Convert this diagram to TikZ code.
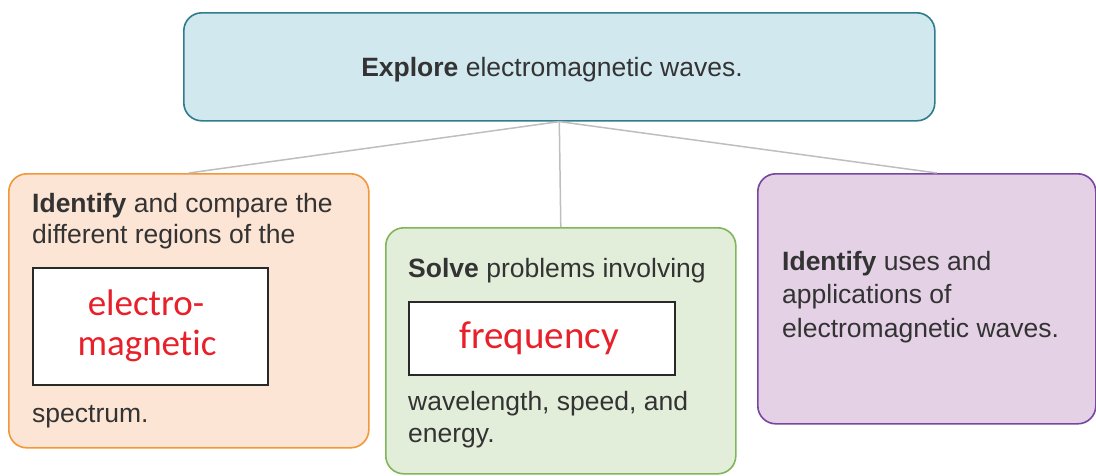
\documentclass[tikz,border=0pt]{standalone}
\usepackage{fontspec}
\setmainfont{Liberation Sans}
\newfontfamily\handfont[Ligatures=NoCommon]{Carlito}
\definecolor{txt}{HTML}{333333}
\definecolor{topfill}{HTML}{D1E8EF}
\definecolor{topdraw}{HTML}{2F7C8C}
\definecolor{lfill}{HTML}{FCE5D4}
\definecolor{ldraw}{HTML}{F2973A}
\definecolor{mfill}{HTML}{E2EEDA}
\definecolor{mdraw}{HTML}{80B55A}
\definecolor{rfill}{HTML}{E4D1E6}
\definecolor{rdraw}{HTML}{7845A0}
\definecolor{linkc}{HTML}{BEBEBE}
\definecolor{redtxt}{HTML}{E8202A}
\begin{document}
\begin{tikzpicture}[x=1pt,y=-1pt,
  card/.style={draw, line width=1.6pt, rounded corners=18pt, inner sep=0pt, anchor=north west},
  whitebox/.style={draw=txt!80!black, fill=white, line width=2.4pt, inner sep=0pt, anchor=north west},
  body/.style={text=txt, font=\fontsize{26.5}{32}\selectfont, inner sep=0pt, anchor=base west, align=left},
  hand/.style={text=redtxt, font=\handfont\fontsize{37}{40}\selectfont, inner sep=0pt, anchor=base},
  link/.style={draw=linkc, line width=1.5pt}]
\useasboundingbox (0,0) rectangle (1096,475);
% cards
\node[card, draw=topdraw, fill=topfill, minimum width=751pt, minimum height=108pt] (top) at (183,12) {};
\node[card, draw=ldraw, fill=lfill, minimum width=360pt, minimum height=274pt] (left) at (8,173) {};
\node[card, draw=mdraw, fill=mfill, minimum width=350pt, minimum height=246pt] (mid) at (385,227) {};
\node[card, draw=rdraw, fill=rfill, minimum width=338pt, minimum height=250pt] (right) at (757,173) {};
% connectors
\draw[link] (top.south) -- (left.north);
\draw[link] (top.south) -- (mid.north);
\draw[link] (top.south) -- ([xshift=10pt]right.north);
% top text
\node[body, anchor=base] (toptxt) at (552,76) {\textbf{Explore} electromagnetic waves.};
% left
\node[body] (l1) at (32,212) {\textbf{Identify} and compare the};
\node[body] (l2) at (32,243) {different regions of the};
\node[whitebox, minimum width=235pt, minimum height=117pt] (lbox) at (32,267) {};
\node[hand] (lh1) at (146,315) {electro-};
\node[hand] (lh2) at (147,355) {magnetic};
\node[body] (l3) at (32,422) {spectrum.};
% middle
\node[body] (m1) at (408,277) {\textbf{Solve} problems involving};
\node[whitebox, minimum width=266pt, minimum height=73pt] (mbox) at (408,301) {};
\node[hand, font=\handfont\fontsize{39}{40}\selectfont] (mh) at (539,348) {frequency};
\node[body] (m2) at (408,410) {wavelength, speed, and};
\node[body] (m3) at (408,442) {energy.};
% right
\node[body] (r1) at (782,270) {\textbf{Identify} uses and};
\node[body] (r2) at (782,303) {applications of};
\node[body] (r3) at (782,337) {electromagnetic waves.};
\end{tikzpicture}
\end{document}
